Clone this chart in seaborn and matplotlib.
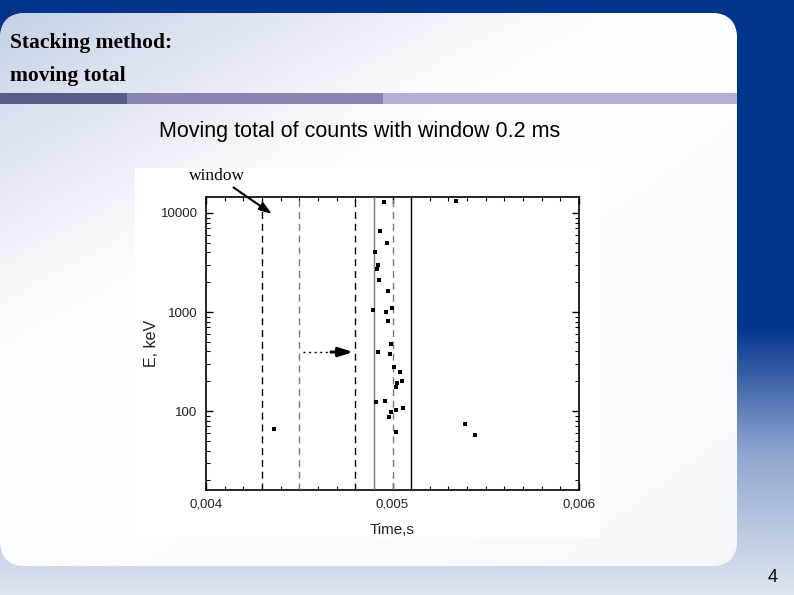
import numpy as np
import pandas as pd
import matplotlib
matplotlib.use('Agg')
import matplotlib.pyplot as plt
import seaborn as sns
from matplotlib.patches import FancyBboxPatch, Rectangle
from matplotlib.ticker import FixedLocator, NullFormatter

# events: arrival time (s) and energy (keV)
time_s = [0.004366, 0.004897, 0.004906, 0.004910, 0.004915, 0.004921, 0.004924, 0.004928,
          0.004933, 0.004956, 0.004960, 0.004967, 0.004971, 0.004974, 0.004977, 0.004981,
          0.004985, 0.004994, 0.004994, 0.004999, 0.005010, 0.005017, 0.005017, 0.005019,
          0.005026, 0.005042, 0.005051, 0.005056, 0.005339, 0.005387, 0.005441]
energy_kev = [66, 1055, 4010, 123, 2700, 397, 2963, 2105,
              6625, 12830, 128, 1007, 5012, 1630, 811, 87,
              377, 472, 99, 1090, 280, 175, 103, 61,
              193, 248, 202, 107, 13220, 75, 57]

# window boundaries (s)
window_edges = [0.0043, 0.0045, 0.0048, 0.0049, 0.0050, 0.0051]
edge_colors = ['black', '#7a7a7a', 'black', '#7a7a7a', '#7a7a7a', 'black']
edge_styles = [(0, (5, 3.5)), (0, (5, 3.5)), (0, (5, 3.5)), '-', (0, (5, 3.5)), '-']

# window shift arrow (time start, dotted end, head end; energy level)
shift_t = [0.00452, 0.00467, 0.00479]
shift_e = 395

x_ticks = [0.004, 0.005, 0.006]
x_tick_labels = ['0,004', '0,005', '0,006']
y_ticks = [100, 1000, 10000]
y_tick_labels = ['100', '1000', '10000']

df = pd.DataFrame({'t': time_s, 'E': energy_kev})

sns.set_theme(style='ticks')
plt.rcParams['font.family'] = ['Liberation Sans', 'DejaVu Sans']
plt.rcParams['text.color'] = 'black'

W, H = 794, 595
fig = plt.figure(figsize=(W / 100, H / 100), dpi=100)

# ---- slide background ----
bg = fig.add_axes([0, 0, 1, 1])
bg.set_xlim(0, W)
bg.set_ylim(H, 0)
bg.axis('off')

yy = np.linspace(0, 1, H)
stops = [0, 0.55, 0.76, 1.0]
cols = np.array([[3, 53, 140], [3, 53, 140], [143, 165, 208], [224, 230, 240]]) / 255
grad = np.stack([np.interp(yy, stops, cols[:, c]) for c in range(3)], axis=-1)
grad = np.repeat(grad[:, None, :], W, axis=1)
bg.imshow(grad, extent=(0, W, H, 0), aspect='auto', zorder=0)

panel = FancyBboxPatch((0, 13), 737, 553, boxstyle='round,pad=0,rounding_size=26',
                       facecolor='white', edgecolor='none', zorder=1)
bg.add_patch(panel)
px, py = np.meshgrid(np.linspace(0, 737, 300), np.linspace(13, 566, 220))
f = np.clip(1 - (px / 600 + (py - 13) / 330), 0, 1) ** 1.1
g = np.clip((px / 737 + (py - 13) / 553) - 1.2, 0, 1) * 0.35
tint = np.array([198, 209, 231]) / 255
tint2 = np.array([226, 232, 242]) / 255
img = np.ones((220, 300, 3)) * np.array([252, 253, 254]) / 255
img = img * (1 - f[..., None]) + tint * f[..., None]
img = img * (1 - g[..., None]) + tint2 * g[..., None]
im = bg.imshow(img, extent=(0, 737, 566, 13), aspect='auto', zorder=2)
im.set_clip_path(panel)

# title and divider bars
bg.text(10, 48, 'Stacking method:', fontsize=15.5, fontweight='bold',
        family='Liberation Serif', va='baseline', zorder=5)
bg.text(10, 81, 'moving total', fontsize=15.5, fontweight='bold',
        family='Liberation Serif', va='baseline', zorder=5)
bg.add_patch(Rectangle((0, 93), 127, 11, color='#5b5b89', lw=0, zorder=3))
bg.add_patch(Rectangle((127, 93), 256, 11, color='#8686b1', lw=0, zorder=3))
bg.add_patch(Rectangle((383, 93), 354, 11, color='#b0b0d6', lw=0, zorder=3))

bg.text(360, 132, 'Moving total of counts with window 0.2 ms', fontsize=15.5,
        ha='center', va='center', zorder=5)
bg.text(773, 577, '4', fontsize=13, ha='center', va='center', zorder=5)

# pasted chart background
bg.add_patch(Rectangle((135, 168), 465, 369, color='white', lw=0, zorder=3))

# ---- the chart ----
ax = fig.add_axes([206 / W, 1 - 490 / H, 373 / W, 293 / H])
ax.set_facecolor('white')
sns.scatterplot(data=df, x='t', y='E', marker='s', s=9, color='black',
                linewidth=0, ax=ax, zorder=5)
ax.set_yscale('log')
ax.set_xlim(0.004, 0.006)
ax.set_ylim(16, 14500)

for xe, c, ls in zip(window_edges, edge_colors, edge_styles):
    ax.axvline(xe, color=c, linestyle=ls, lw=1.0, zorder=3)

ax.plot(shift_t[:2], [shift_e, shift_e], color='black', lw=1.0, linestyle=(0, (1.5, 2.5)))
ax.annotate('', xy=(shift_t[2], shift_e), xytext=(shift_t[1], shift_e),
            arrowprops=dict(arrowstyle='-|>,head_length=0.7,head_width=0.22',
                            color='black', lw=2.2, shrinkA=0, shrinkB=0))

ax.annotate('window', xy=(0.004354, 9770), xytext=(0.00406, 23500),
            textcoords='data', fontsize=12.5, family='Liberation Serif',
            ha='center', va='center', annotation_clip=False,
            arrowprops=dict(arrowstyle='-|>,head_length=0.6,head_width=0.2',
                            color='black', lw=1.5, shrinkA=0, shrinkB=0))

ax.xaxis.set_major_locator(FixedLocator(x_ticks))
ax.set_xticklabels(x_tick_labels)
ax.xaxis.set_minor_locator(FixedLocator(np.arange(0.0041, 0.006, 0.0001)))
ax.yaxis.set_major_locator(FixedLocator(y_ticks))
ax.set_yticklabels(y_tick_labels)
minor_y = [m * 10 ** d for d in range(1, 5) for m in range(2, 10)]
ax.yaxis.set_minor_locator(FixedLocator(minor_y))
ax.yaxis.set_minor_formatter(NullFormatter())

ax.tick_params(which='both', direction='in', top=True, right=True,
               color='black', labelsize=9.5, labelcolor='#222222')
ax.tick_params(which='major', length=5, width=1.0, pad=6)
ax.tick_params(which='minor', length=3, width=0.8)
for sp in ax.spines.values():
    sp.set_color('black')
    sp.set_linewidth(1.2)

ax.set_xlabel('Time,s', fontsize=11, color='#222222', labelpad=9)
ax.set_ylabel('E, keV', fontsize=11.5, color='#222222', labelpad=1)

fig.savefig('out.png', dpi=100)
